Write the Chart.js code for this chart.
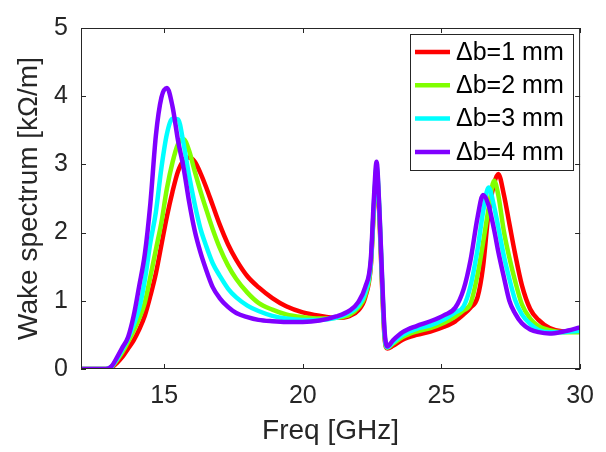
<!DOCTYPE html>
<html lang="en">
<head>
    <meta charset="UTF-8">
    <title>Wake spectrum</title>
    <script src="https://cdn.jsdelivr.net/npm/chart.js@4/dist/chart.umd.min.js"></script>
    <style>
        body { margin: 0; background: #fff; }
    </style>
</head>
<body>
    <canvas id="myChart" width="606" height="452"></canvas>

    <script>
        // values
        const freq = [12, 12.9, 13.1, 13.3, 13.5, 13.7, 13.9, 14.1, 14.3, 14.5, 14.7, 14.9, 15.1, 15.3, 15.5, 15.7,
            15.9, 16.1, 16.3, 16.5, 16.75, 17.0, 17.3, 17.6, 18.0, 18.4, 18.9, 19.4, 20.0, 20.6, 21.2, 21.7,
            22.0, 22.25, 22.45, 22.57, 22.66, 22.76, 22.86, 22.95, 23.05, 23.25, 23.6, 24.1, 24.6, 25.1, 25.5,
            25.8, 26.05, 26.3, 26.5, 26.7, 26.9, 27.05, 27.25, 27.45, 27.65, 27.9, 28.2, 28.5, 28.9, 29.4, 30];

        const db1 = [0, 0, 0.02, 0.09, 0.18, 0.3, 0.42, 0.58, 0.78, 1.07, 1.4, 1.82, 2.24, 2.6, 2.9, 3.06,
            3.1, 3.04, 2.88, 2.68, 2.4, 2.12, 1.83, 1.6, 1.36, 1.2, 1.04, 0.92, 0.83, 0.78, 0.75, 0.78,
            0.86, 1.05, 1.5, 2.4, 2.9, 2.25, 1.2, 0.45, 0.3, 0.34, 0.43, 0.5, 0.55, 0.62, 0.7,
            0.8, 0.9, 1.05, 1.5, 2.3, 2.72, 2.86, 2.56, 2.13, 1.7, 1.23, 0.88, 0.72, 0.6, 0.55, 0.57];

        const db2 = [0, 0, 0.03, 0.13, 0.25, 0.4, 0.56, 0.74, 0.97, 1.35, 1.75, 2.15, 2.65, 3.03, 3.3, 3.37,
            3.2, 2.9, 2.62, 2.36, 2.05, 1.78, 1.52, 1.32, 1.12, 0.97, 0.87, 0.8, 0.76, 0.74, 0.75, 0.8,
            0.9, 1.08, 1.52, 2.42, 2.93, 2.3, 1.25, 0.48, 0.31, 0.37, 0.47, 0.55, 0.6, 0.68, 0.77,
            0.86, 0.96, 1.38, 1.85, 2.35, 2.76, 2.55, 2.02, 1.63, 1.3, 0.95, 0.74, 0.63, 0.57, 0.54, 0.54];

        const db3 = [0, 0, 0.03, 0.15, 0.29, 0.45, 0.65, 0.89, 1.3, 1.85, 2.3, 2.95, 3.45, 3.67, 3.66, 3.3,
            2.83, 2.42, 2.07, 1.82, 1.55, 1.37, 1.18, 1.05, 0.93, 0.85, 0.78, 0.74, 0.72, 0.72, 0.75, 0.83,
            0.93, 1.12, 1.55, 2.45, 2.97, 2.35, 1.3, 0.5, 0.32, 0.39, 0.5, 0.59, 0.64, 0.73, 0.83,
            0.92, 1.22, 1.75, 2.3, 2.66, 2.38, 2.08, 1.66, 1.32, 1.02, 0.8, 0.66, 0.57, 0.54, 0.54, 0.56];

        const db4 = [0, 0, 0.04, 0.17, 0.32, 0.47, 0.78, 1.22, 1.68, 2.42, 3.42, 3.98, 4.12, 3.85, 3.35, 2.95,
            2.45, 2.03, 1.72, 1.47, 1.2, 1.04, 0.91, 0.82, 0.76, 0.72, 0.7, 0.69, 0.69, 0.71, 0.77, 0.86,
            0.98, 1.2, 1.6, 2.55, 3.04, 2.35, 1.34, 0.55, 0.33, 0.42, 0.54, 0.63, 0.7, 0.79, 0.9,
            1.17, 1.6, 2.22, 2.55, 2.4, 2.04, 1.72, 1.35, 1.0, 0.82, 0.67, 0.58, 0.54, 0.52, 0.55, 0.61];

        const labels = ['\u0394b=1 mm', '\u0394b=2 mm', '\u0394b=3 mm', '\u0394b=4 mm'];
        const colors = ['#ff0000', '#80ff00', '#00ffff', '#8000ff'];
        const xTicks = [15, 20, 25, 30];
        const yTicks = [0, 1, 2, 3, 4, 5];

        const ink = '#262626';
        const font = 'Liberation Sans, Arial, sans-serif';

        const toPoints = (ys) => freq.map((f, i) => ({ x: f, y: ys[i] }));

        // box round the axes with inward ticks, like matlab
        const frame = {
            id: 'frame',
            afterDatasetsDraw(chart) {
                const { ctx, chartArea: a, scales: { x, y } } = chart;
                ctx.save();
                ctx.strokeStyle = ink;
                ctx.lineWidth = 1;
                ctx.strokeRect(a.left + 0.5, a.top + 0.5, a.width - 1, a.height - 1);
                ctx.beginPath();
                x.ticks.forEach(t => {
                    const px = Math.round(x.getPixelForValue(t.value)) + 0.5;
                    ctx.moveTo(px, a.bottom); ctx.lineTo(px, a.bottom - 5);
                    ctx.moveTo(px, a.top); ctx.lineTo(px, a.top + 5);
                });
                y.ticks.forEach(t => {
                    const py = Math.round(y.getPixelForValue(t.value)) + 0.5;
                    ctx.moveTo(a.left, py); ctx.lineTo(a.left + 5, py);
                    ctx.moveTo(a.right, py); ctx.lineTo(a.right - 5, py);
                });
                ctx.stroke();
                ctx.restore();
            }
        };

        // boxed legend inside the top right corner
        const boxLegend = {
            id: 'boxLegend',
            afterDraw(chart) {
                const { ctx, chartArea: a } = chart;
                const sets = chart.data.datasets;
                ctx.save();
                ctx.font = '25px ' + font;
                const tw = Math.max(...sets.map(d => ctx.measureText(d.label).width));
                const rowH = 33.3;
                const w = Math.round(46 + tw + 9);
                const h = Math.round(rowH * sets.length + 3);
                const left = Math.round(a.right - 7 - w);
                const top = Math.round(a.top + 6);
                ctx.fillStyle = '#fff';
                ctx.fillRect(left, top, w, h);
                ctx.strokeStyle = ink;
                ctx.lineWidth = 1;
                ctx.strokeRect(left + 0.5, top + 0.5, w, h);
                ctx.textBaseline = 'middle';
                sets.forEach((d, i) => {
                    const cy = top + 18 + i * rowH;
                    ctx.strokeStyle = d.borderColor;
                    ctx.lineWidth = 4.5;
                    ctx.beginPath();
                    ctx.moveTo(left + 5, cy);
                    ctx.lineTo(left + 40, cy);
                    ctx.stroke();
                    ctx.fillStyle = '#000';
                    ctx.fillText(d.label, left + 46, cy + 1);
                });
                ctx.restore();
            }
        };

        const chart = new Chart('myChart', {
            type: 'line',
            data: {
                datasets: [db1, db2, db3, db4].map((s, i) => ({
                    label: labels[i],
                    data: toPoints(s),
                    borderColor: colors[i],
                    backgroundColor: colors[i],
                    borderWidth: 4.5,
                    pointRadius: 0,
                    cubicInterpolationMode: 'monotone',
                    borderJoinStyle: 'round',
                    borderCapStyle: 'round',
                    fill: false,
                    order: 3 - i
                }))
            },
            options: {
                responsive: false,
                animation: false,
                devicePixelRatio: 1,
                layout: { padding: { top: 12, right: 22, left: 0, bottom: 0 } },
                plugins: {
                    legend: { display: false },
                    tooltip: { enabled: false }
                },
                scales: {
                    x: {
                        type: 'linear',
                        min: 12,
                        max: 30,
                        afterBuildTicks: (s) => { s.ticks = xTicks.map(v => ({ value: v })); },
                        afterFit: (s) => { s.height = 83; },
                        grid: { display: false, drawTicks: false, tickLength: 0 },
                        border: { display: false },
                        ticks: { padding: 12, color: ink, font: { family: font, size: 25 } },
                        title: {
                            display: true,
                            text: 'Freq [GHz]',
                            color: ink,
                            font: { family: font, size: 28 },
                            padding: { top: 0, bottom: 4 }
                        }
                    },
                    y: {
                        min: 0,
                        max: 5,
                        afterBuildTicks: (s) => { s.ticks = yTicks.map(v => ({ value: v })); },
                        afterFit: (s) => { s.width = 81; },
                        grid: { display: false, drawTicks: false, tickLength: 0 },
                        border: { display: false },
                        ticks: { padding: 13, color: ink, font: { family: font, size: 25 } },
                        title: {
                            display: true,
                            text: 'Wake spectrum [k\u03A9/m]',
                            color: ink,
                            font: { family: font, size: 28 },
                            padding: { top: 12, bottom: 0 }
                        }
                    }
                }
            },
            plugins: [frame, boxLegend]
        });
    </script>
</body>
</html>
